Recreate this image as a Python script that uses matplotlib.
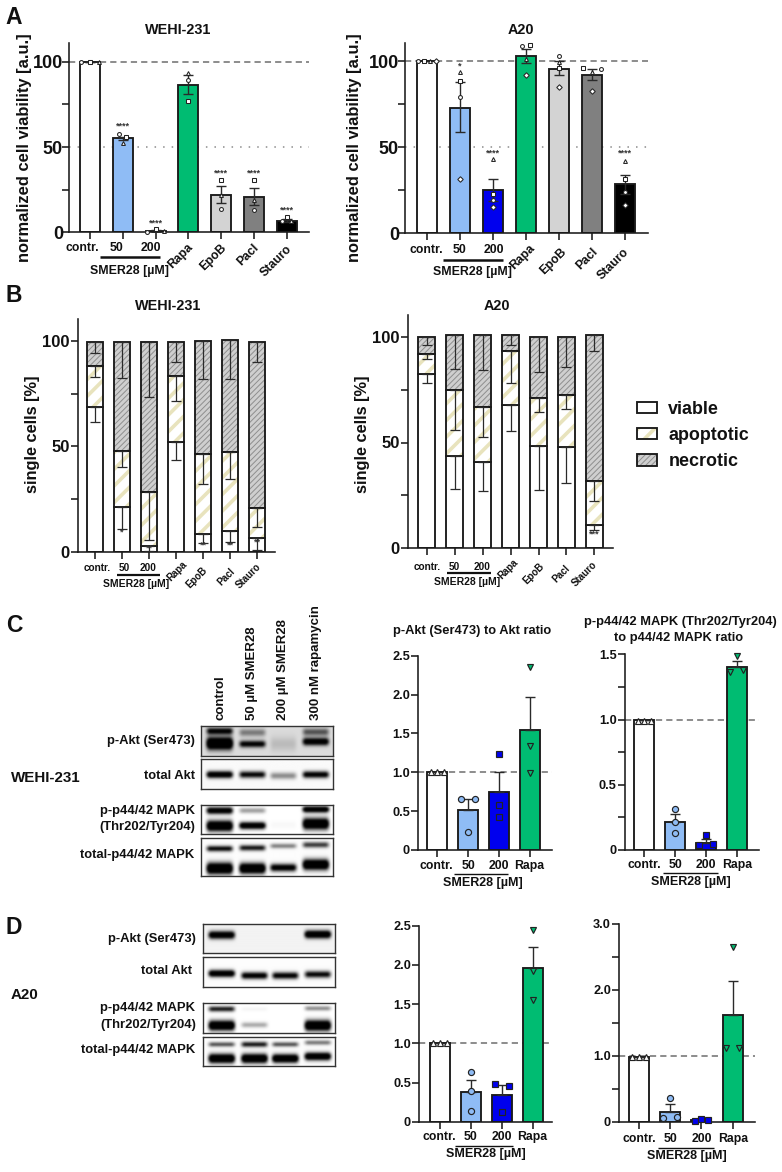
import numpy as np
import matplotlib
matplotlib.use("Agg")
import matplotlib.pyplot as plt
from matplotlib.patches import Rectangle, Patch
from matplotlib.legend_handler import HandlerBase

plt.rcParams['font.family'] = ['Liberation Sans', 'DejaVu Sans']
plt.rcParams['font.weight'] = 'bold'

# ---------- data ----------
colors_all = ['#ffffff', '#8fbcf5', '#0000ee', '#00bc72', '#d3d3d3', '#808080', '#000000']
cats_full = ['contr.', '50', '200', 'Rapa', 'EpoB', 'Pacl', 'Stauro']
cats_short = ['contr.', '50', '200', 'Rapa']
smer = 'SMER28 [µM]'

# Panel A, WEHI-231 (replicate markers: circle, square, triangle)
aw_mean = [100, 55, 0.8, 86.3, 22, 20.7, 6.8]
aw_hi = [100, 56, 1.3, 92.2, 27.3, 26.2, 7.8]
aw_lo = [100, 54, 0.4, 81.2, 17.4, 15.8, 5.8]
aw_pts = [[100, 100, 100], [57.4, 55.9, 52.5], [0.4, 2, 1], [89.3, 76.8, 93.5],
          [13.7, 30.9, 21.9], [12.9, 30.5, 18.8], [6.5, 8.8, 6.9]]
aw_off = [[-.27, 0, .27], [-.12, .1, 0], [-.27, 0, .25], [0, 0, 0],
          [0, 0, 0], [0, 0, 0], [-.13, 0, .13]]
aw_markers = ['o', 's', '^']
aw_stars = {1: ('****', 62), 2: ('****', 5.5), 4: ('****', 34.8), 5: ('****', 34.8), 6: ('****', 13)}

# Panel A, A20 (replicate markers: circle, square, triangle, diamond)
aa_mean = [100, 72.9, 25.1, 102.7, 95.6, 91.7, 28.4]
aa_hi = [100, 87.6, 31.5, 107, 99.8, 95.2, 34]
aa_lo = [100, 59, 19, 99, 91.7, 88.8, 22.8]
aa_pts = [[100, 100, 100, 100], [79.1, 88.2, 93.8, 31.7], [19.1, 22.8, 43.3, 15.3],
          [108.9, 109.3, 101, 92], [102.7, 95.7, 99.4, 84.9], [95.2, 96.1, 93.6, 82.4],
          [24.2, 31.3, 41.8, 16.4]]
aa_off = [[-.27, -.09, .09, .27], [0, 0, 0, 0], [0, 0, 0, 0], [-.12, .12, 0, 0],
          [0, 0, 0, 0], [.27, -.27, 0, 0], [0, 0, 0, 0]]
aa_markers = ['o', 's', '^', 'D']
aa_stars = {1: ('*', 97.3), 2: ('****', 46.6), 6: ('****', 46.6)}

# Panel B, WEHI-231
bw_viable = [68.7, 21.4, 3, 52.1, 8.5, 10.2, 6.6]
bw_apop = [87.9, 47.7, 28.3, 83.1, 46.6, 47.2, 20.8]
bw_total = [99.5, 99.5, 99.5, 99.5, 100, 100.2, 99.5]
bw_viable_lo = [61.4, 10.9, 0.5, 43.5, 4.3, 5, 1]
bw_apop_lo = [82.7, 40.5, 5.8, 71.5, 32.4, 34.6, 12]
bw_total_lo = [94, 82.4, 73.5, 89.8, 81.7, 81.9, 89.8]
bw_stars = {1: ('*', 9.5), 2: ('**', 1.9), 4: ('**', 3.2), 5: ('**', 3.5), 6: ('**', 4.8)}

# Panel B, A20
ba_viable = [82.5, 43.5, 40.6, 67.7, 48.5, 47.7, 10.9]
ba_apop = [91.7, 74.8, 67, 93.4, 70.9, 72.3, 32]
ba_total = [100, 100.6, 100.6, 100.6, 100, 100, 100.6]
ba_viable_lo = [78.1, 28, 27.2, 55.3, 27.7, 30.7, 8.7]
ba_apop_lo = [89.4, 55.7, 52.6, 78.1, 64.3, 65.7, 22.5]
ba_total_lo = [96, 84.6, 84.3, 95.9, 83.3, 85.7, 93.2]
ba_stars = {6: ('***', 6.9)}
legend_labels = ['viable', 'apoptotic', 'necrotic']

# Panels C and D: short bars
short_colors = ['#ffffff', '#8fbcf5', '#0000ee', '#00bc72']
short_markers = ['^', 'o', 's', 'v']

c1_mean = [1.0, 0.51, 0.74, 1.55]
c1_hi = [1.0, 0.656, 1.0, 1.97]
c1_pts = [[1, 1, 1], [0.66, 0.66, 0.236], [1.23, 0.58, 0.43], [2.35, 1.34, 0.99]]
c1_off = [[-.22, 0, .22], [-.22, .22, 0], [0, 0, 0], [0, 0, 0]]

c2_mean = [1.0, 0.215, 0.056, 1.405]
c2_hi = [1.0, 0.273, 0.087, 1.449]
c2_pts = [[.99, .99, .99], [0.317, 0.215, 0.13], [0.112, 0.036, 0.046], [1.49, 1.365, 1.38]]
c2_off = [[-.22, 0, .22], [0, 0, 0], [0, -.22, .22], [0, -.22, .22]]

d1_mean = [1.0, 0.386, 0.348, 1.965]
d1_hi = [1.0, 0.54, 0.47, 2.228]
d1_pts = [[1, 1, 1], [0.64, 0.395, 0.136], [0.484, 0.458, 0.13], [2.445, 1.92, 1.553]]
d1_off = [[-.22, 0, .22], [0, 0, 0], [-.22, .24, 0], [0, 0, 0]]

d2_mean = [0.99, 0.156, 0.03, 1.614]
d2_hi = [0.99, 0.267, 0.05, 2.128]
d2_pts = [[.99, .99, .99], [0.363, 0.06, 0.07], [0.01, 0.045, 0.025], [2.642, 1.12, 1.125]]
d2_off = [[-.22, 0, .22], [0, -.22, .22], [-.22, 0, .22], [0, -.22, .22]]

# Western blots: band per lane = (row position, intensity, thickness)
lane_names = ['control', '50 µM SMER28', '200 µM SMER28', '300 nM rapamycin']
blots_c = [
    ('p-Akt (Ser473)', .14, [[(.17, .62, .09), (.58, 1.0, .16)], [(.22, .25, .1), (.6, .62, .09)],
                             [(.6, .08, .2)], [(.2, .35, .1), (.52, .72, .1)]]),
    ('total Akt', .02, [[(.52, .85, .09)], [(.52, .65, .09)], [(.56, .28, .09)], [(.52, .72, .09)]]),
    ('p-p44/42 MAPK', .0, [[(.22, .85, .09), (.73, 1.0, .14)], [(.22, .25, .07), (.72, .92, .09)],
                           [(.7, .02, .1)], [(.18, .95, .08), (.66, 1.0, .15)]]),
    ('total-p44/42 MAPK', .01, [[(.28, .65, .06), (.8, 1.0, .12)], [(.26, .6, .06), (.8, 1.0, .11)],
                                [(.21, .32, .05), (.78, .75, .08)], [(.18, .5, .06), (.7, 1.0, .11)]]),
]
blots_d = [
    ('p-Akt (Ser473)', .05, [[(.4, .85, .1)], [], [], [(.38, .95, .1)]]),
    ('total Akt', .01, [[(.55, .9, .09)], [(.62, .75, .09)], [(.62, .7, .09)], [(.58, .65, .09)]]),
    ('p-p44/42 MAPK', .0, [[(.2, .6, .07), (.75, 1.0, .13)], [(.2, .03, .05), (.73, .22, .07)],
                           [], [(.18, .3, .06), (.75, 1.0, .14)]]),
    ('total-p44/42 MAPK', .01, [[(.28, .45, .06), (.75, 1.0, .12)], [(.28, .6, .07), (.75, 1.0, .12)],
                                [(.28, .45, .06), (.75, 1.0, .11)], [(.22, .35, .06), (.68, .95, .1)]]),
]

# ---------- layout (pixels) ----------
W, H = 782, 1172
fig = plt.figure(figsize=(W / 100, H / 100), dpi=100, facecolor='white')
ov = fig.add_axes([0, 0, 1, 1], zorder=20)
ov.set_xlim(0, W); ov.set_ylim(H, 0); ov.axis('off'); ov.patch.set_alpha(0)

DK = '#1a1a1a'
AX_LW = 1.15
BAR_LW = 1.35
BEIGE = '#e8e3bd'
GREY_F = '#cfcfcf'
GREY_H = '#8e8e8e'


def hatch_width(patch, lw):
    patch._hatch_linewidth = lw
    orig = patch.draw

    def draw(renderer):
        with plt.rc_context({'hatch.linewidth': lw}):
            orig(renderer)
    patch.draw = draw
    return patch


def make_ax(xl, xr, y0, ytop, c0, dc, ref_val, ref_px, major, minor, fmt, tick_fs, ncat, pad=1):
    ax = fig.add_axes([xl / W, 1 - y0 / H, (xr - xl) / W, (y0 - ytop) / H])
    ax.set_xlim((xl - c0) / dc, (xr - c0) / dc)
    s = (y0 - ref_px) / ref_val
    ax.set_ylim(0, (y0 - ytop) / s)
    for k in ('top', 'right'):
        ax.spines[k].set_visible(False)
    for k in ('left', 'bottom'):
        ax.spines[k].set_linewidth(AX_LW)
        ax.spines[k].set_color(DK)
    ax.set_xticks(range(ncat))
    ax.set_xticklabels([])
    ax.set_yticks(major)
    ax.set_yticklabels([fmt(v) for v in major], fontsize=tick_fs, fontweight='bold', color='#111111')
    ax.set_yticks(minor, minor=True)
    ax.tick_params(axis='both', which='major', length=5, width=AX_LW, pad=pad, color=DK)
    ax.tick_params(axis='y', which='minor', length=5, width=AX_LW, color=DK)
    ax.patch.set_alpha(0)
    return ax


def T(x, y, s, fs, ha='center', va='center', **kw):
    kw.setdefault('color', '#111111')
    return ov.text(x, y, s, fontsize=fs, ha=ha, va=va, fontweight='bold', **kw)


def under(x0, x1, y, lw):
    ov.plot([x0, x1], [y, y], color='#111111', lw=lw, solid_capstyle='butt')


def bars_pts(ax, means, hi, lo, pts, off, colors, markers, mfc_mode, width, ms, capsize, mew):
    x = np.arange(len(means))
    ax.bar(x, means, width=width, color=colors, edgecolor=DK, linewidth=BAR_LW, zorder=2)
    up = np.array(hi) - np.array(means)
    dn = np.array(means) - np.array(lo)
    ax.errorbar(x, means, yerr=[dn, up], fmt='none', ecolor='#2a2a2a', elinewidth=1.0,
                capsize=capsize, capthick=1.0, zorder=3)
    for i, (vals, oo) in enumerate(zip(pts, off)):
        for j, (v, o) in enumerate(zip(vals, oo)):
            m = markers[i] if mfc_mode == 'bycat' else markers[j]
            fc = colors[i] if mfc_mode == 'bycat' else 'white'
            ax.plot(i + o, v, marker=m, ms=ms, mfc=fc, mec='#222222', mew=mew, ls='none',
                    zorder=4, clip_on=False)


def refline(ax, v):
    ax.axhline(v, color='#8c8c8c', lw=1.4, ls=(0, (3.2, 2.1)), zorder=1)


def stars(ax, d, dy=0):
    for i, (s, v) in d.items():
        ax.text(i, v + dy, s, fontsize=6.5, ha='center', va='center', color='#333333', fontweight='bold', zorder=5)


pct_fmt = lambda v: f'{v:d}'
dec_fmt = lambda v: '0' if v == 0 else f'{v:.1f}'

# ---------- panel A ----------
axA1 = make_ax(69, 309, 232.3, 43, 90.3, 32.7, 100, 61.7, [0, 50, 100], [25, 75], pct_fmt, 13, 7, pad=-.6)
refline(axA1, 100)
axA1.axhline(50, color='#8c8c8c', lw=1.1, ls=(0, (1, 4.6)), zorder=1)
bars_pts(axA1, aw_mean, aw_hi, aw_lo, aw_pts, aw_off, colors_all, aw_markers, 'rep', 20 / 32.7, 2.8, 3.8, .75)
stars(axA1, aw_stars)

axA2 = make_ax(405, 648, 233.3, 43, 426.7, 33.1, 100, 61, [0, 50, 100], [25, 75], pct_fmt, 13, 7, pad=-.6)
refline(axA2, 100)
axA2.axhline(50, color='#8c8c8c', lw=1.1, ls=(0, (1, 4.6)), zorder=1)
bars_pts(axA2, aa_mean, aa_hi, aa_lo, aa_pts, aa_off, colors_all, aa_markers, 'rep', 20 / 33.1, 2.8, 3.8, .75)
stars(axA2, aa_stars)

T(14, 18, 'A', 16.5); T(14, 296, 'B', 16.5); T(14, 625, 'C', 16.5); T(14, 927, 'D', 16.5)
T(178, 30, 'WEHI-231', 10.4); T(521, 30, 'A20', 10.4)
T(24.5, 148, 'normalized cell viability [a.u.]', 11.9, rotation=90)
T(355, 148, 'normalized cell viability [a.u.]', 11.9, rotation=90)

for cx, y in [((82.7, 116.7, 150.7), 248.3), ((426, 460, 494), 249.7)]:
    for c, x in zip(cats_full[:3], cx):
        T(x, y, c, 8.8)
rot_ends_A1 = [(186.5, 241), (220, 242), (252.5, 242), (285.5, 243)]
rot_ends_A2 = [(529, 242), (560, 246), (592, 246), (623, 246)]
for ends in (rot_ends_A1, rot_ends_A2):
    for c, (x, y) in zip(cats_full[3:], ends):
        T(x, y, c, 8.8, ha='right', va='top', rotation=45, rotation_mode='anchor')
under(100, 160, 257.3, 1.8); T(129, 270.7, smer, 8.9)
under(443.3, 503.3, 259.7, 1.8); T(472.3, 271.7, smer, 8.9)

# ---------- panel B ----------
def stacked(ax, viable, apop, total, v_lo, a_lo, t_lo, width):
    x = np.arange(len(viable))
    viable, apop, total = map(np.array, (viable, apop, total))
    ax.bar(x, viable, width=width, color='white', edgecolor=DK, linewidth=BAR_LW, zorder=2)
    for p in ax.bar(x, apop - viable, bottom=viable, width=width, color='white', edgecolor=BEIGE,
                    linewidth=0, hatch='//', zorder=2):
        hatch_width(p, 2.6)
    for p in ax.bar(x, total - apop, bottom=apop, width=width, color=GREY_F, edgecolor=GREY_H,
                    linewidth=0, hatch='//////', zorder=2):
        hatch_width(p, 0.7)
    ax.bar(x, apop - viable, bottom=viable, width=width, fill=False, edgecolor=DK, linewidth=BAR_LW, zorder=2.5)
    ax.bar(x, total - apop, bottom=apop, width=width, fill=False, edgecolor=DK, linewidth=BAR_LW, zorder=2.5)
    for top, lo in ((viable, v_lo), (apop, a_lo), (total, t_lo)):
        ax.errorbar(x, top, yerr=[top - np.array(lo), np.zeros(len(top))], fmt='none', ecolor='#2a2a2a',
                    elinewidth=.9, capsize=3.4, capthick=.9, zorder=3)


axB1 = make_ax(78, 275, 552.3, 319.3, 95, 27, 100, 340.7, [0, 50, 100], [25, 75], pct_fmt, 12, 7)
stacked(axB1, bw_viable, bw_apop, bw_total, bw_viable_lo, bw_apop_lo, bw_total_lo, 16.7 / 27)
stars(axB1, bw_stars)
axB2 = make_ax(408, 613, 548.3, 315, 426.7, 27.95, 100, 336.7, [0, 50, 100], [25, 75], pct_fmt, 12, 7)
stacked(axB2, ba_viable, ba_apop, ba_total, ba_viable_lo, ba_apop_lo, ba_total_lo, 17 / 27.95)
stars(axB2, ba_stars)

T(167.7, 306, 'WEHI-231', 10.4); T(497, 306, 'A20', 10.4)
T(32.7, 434, 'single cells [%]', 11.8, rotation=90)
T(362, 434, 'single cells [%]', 11.8, rotation=90)
for c, x in zip(cats_full[:3], (97, 124.3, 148.3)):
    T(x, 568.3, c, 7.2)
for c, x in zip(cats_full[:3], (427.3, 454.3, 482.3)):
    T(x, 566.7, c, 7.2)
for c, (x, y) in zip(cats_full[3:], [(182, 559), (202, 565), (230, 566), (256, 562)]):
    T(x, y, c, 7.0, ha='right', va='top', rotation=45, rotation_mode='anchor')
for c, (x, y) in zip(cats_full[3:], [(513, 557), (539, 561), (565, 563), (592, 560)]):
    T(x, y, c, 7.0, ha='right', va='top', rotation=45, rotation_mode='anchor')
under(116.7, 160, 575.3, 1.6); T(136, 584, smer, 7.5)
under(446.7, 490.7, 573.3, 1.6); T(466.7, 582.3, smer, 7.5)

# legend
class DoubleHandler(HandlerBase):
    def create_artists(self, legend, orig, xd, yd, w, h, fs, trans):
        fill = Rectangle((-xd, -yd), w, h, facecolor=orig.get_facecolor(), edgecolor=orig.get_edgecolor(),
                         hatch=orig.get_hatch(), lw=0, transform=trans)
        hatch_width(fill, 2.6 if orig.get_hatch() == '//' else 0.7)
        edge = Rectangle((-xd, -yd), w, h, fill=False, edgecolor=DK, lw=BAR_LW, transform=trans)
        return [fill, edge]


leg_handles = [Patch(facecolor='white', edgecolor='white', label=legend_labels[0]),
               Patch(facecolor='white', edgecolor=BEIGE, hatch='//', label=legend_labels[1]),
               Patch(facecolor=GREY_F, edgecolor=GREY_H, hatch='//////', label=legend_labels[2])]
leg = ov.legend(handles=leg_handles, handler_map={Patch: DoubleHandler()}, loc='center left',
                bbox_to_anchor=(637.3, 435.5), bbox_transform=ov.transData, frameon=False,
                borderpad=0, borderaxespad=0, handlelength=1.1, handleheight=.57, handletextpad=.63,
                labelspacing=.52, prop={'weight': 'bold', 'size': 12.9, 'family': 'Liberation Sans'})
for t in leg.get_texts():
    t.set_color('#111111')

# ---------- blots ----------
def smooth(img, sigma_px):
    n = int(sigma_px * 3) + 1
    k = np.exp(-.5 * (np.arange(-n, n + 1) / sigma_px) ** 2)
    k /= k.sum()
    pad = np.pad(img, n, mode='edge')
    pad = np.apply_along_axis(lambda r: np.convolve(r, k, mode='same'), 0, pad)
    pad = np.apply_along_axis(lambda r: np.convolve(r, k, mode='same'), 1, pad)
    return pad[n:-n, n:-n]


def draw_blot(rect, bg, lanes):
    x0, x1, y0, y1 = rect
    h, w = int((y1 - y0) * 3), int((x1 - x0) * 3)
    yy = (np.arange(h) + .5) / h
    xx = (np.arange(w) + .5) / w
    img = np.full((h, w), float(bg))
    for cx, bands in zip((.142, .39, .624, .87), lanes):
        prof_x = np.clip((.12 - np.abs(xx - cx)) / .05, 0, 1)
        prof_x = prof_x * prof_x * (3 - 2 * prof_x)
        for pos, inten, th in bands:
            img += 1.6 * inten * np.outer(np.exp(-((yy - pos) / (th * 1.2)) ** 2), prof_x)
    img = smooth(np.clip(img, 0, 1), 2.4)
    ax = fig.add_axes([x0 / W, 1 - y1 / H, (x1 - x0) / W, (y1 - y0) / H])
    ax.imshow(img, cmap='gray_r', vmin=0, vmax=1, aspect='auto', interpolation='bilinear')
    ax.set_xticks([]); ax.set_yticks([])
    for s in ax.spines.values():
        s.set_linewidth(1.0); s.set_color('#333333')


rows_c = [(726, 755.7), (759.3, 788.7), (804.7, 834.3), (837.7, 875.7)]
rows_d = [(924, 953.3), (957.3, 987), (1003, 1032.7), (1036.7, 1066)]
for (name, bg, lanes), (y0, y1) in zip(blots_c, rows_c):
    draw_blot((201.3, 332.7, y0, y1), bg, lanes)
for (name, bg, lanes), (y0, y1) in zip(blots_d, rows_d):
    draw_blot((203, 335, y0, y1), bg, lanes)

for x, s in zip((220, 252.3, 283.3, 315.7), lane_names):
    T(x, 720, s, 9.5, va='bottom', rotation=90)

for y, s in zip((741, 776, 810.7, 854.7), [b[0] for b in blots_c]):
    T(194.7, y, s, 9.4, ha='right')
T(195.7, 826.7, '(Thr202/Tyr204)', 9.4, ha='right')
T(11, 778, 'WEHI-231', 10.9, ha='left')
for y, x, s in zip((939, 970.7, 1008, 1050), (196, 191.7, 195, 195), [b[0] for b in blots_d]):
    T(x, y, s, 9.4, ha='right')
T(196.5, 1025, '(Thr202/Tyr204)', 9.4, ha='right')
T(11, 994.7, 'A20', 10.9, ha='left')

# ---------- panels C, D charts ----------
def short_panel(geom, major, minor, means, hi, pts, off):
    ax = make_ax(*geom, major, minor, dec_fmt, 9.2, 4)
    refline(ax, 1.0)
    bars_pts(ax, means, hi, means, pts, off, short_colors, short_markers, 'bycat', 20 / geom[5], 4.4, 3.6, .85)
    return ax


short_panel((418.3, 551.7, 850, 655.7, 437.3, 30.8, 2.5, 655.7), [0, .5, 1, 1.5, 2, 2.5], [], c1_mean, c1_hi, c1_pts, c1_off)
short_panel((625, 759, 850, 654.3, 644.3, 30.8, 1.5, 654.3), [0, .5, 1, 1.5], [.25, .75, 1.25], c2_mean, c2_hi, c2_pts, c2_off)
short_panel((419.3, 551.7, 1122, 925.7, 439.7, 31, 2.5, 925.7), [0, .5, 1, 1.5, 2, 2.5], [], d1_mean, d1_hi, d1_pts, d1_off)
short_panel((619.3, 755, 1122, 923.7, 639, 31.2, 3, 923.7), [0, 1, 2, 3], [.5, 1.5, 2.5], d2_mean, d2_hi, d2_pts, d2_off)

T(472.3, 630.7, 'p-Akt (Ser473) to Akt ratio', 9.3)
T(680, 621.7, 'p-p44/42 MAPK (Thr202/Tyr204)', 9.3)
T(679, 638.3, 'to p44/42 MAPK ratio', 9.3)

label_rows = [
    ((436.7, 468.3, 498.7, 529.3), 866, (454, 508, 874), (482.7, 883.3)),
    ((644.3, 675.7, 706, 737), 865.3, (662.7, 718, 873.3), (690.7, 882)),
    ((439.7, 470.7, 501.7, 532.3), 1137.3, (455, 513.3, 1146), (486, 1154)),
    ((639, 670.7, 701.7, 733), 1138.7, (658.3, 714, 1147.7), (686.7, 1156)),
]
for xs, y, (u0, u1, uy), (sx, sy) in label_rows:
    for c, x in zip(cats_short, xs):
        T(x, y, c, 8.8)
    under(u0, u1, uy, 1.0)
    T(sx, sy, smer, 9)

fig.savefig('out.png', dpi=100, facecolor='white')
